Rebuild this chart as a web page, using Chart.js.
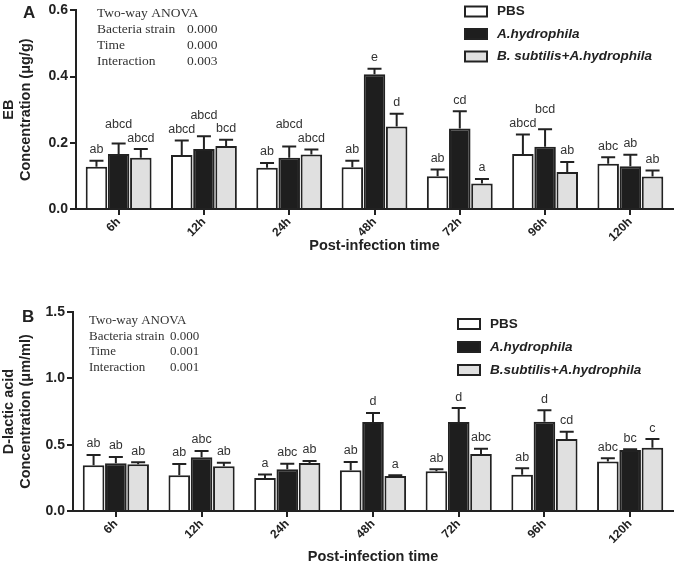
<!DOCTYPE html>
<html>
<head>
<meta charset="utf-8">
<script src="https://cdn.jsdelivr.net/npm/chart.js@4.4.0/dist/chart.umd.min.js"></script>
<style>
  body { margin: 0; background: #fff; }
  .panel { position: relative; width: 675px; }
</style>
</head>
<body>
<div class="panel" style="height:280px"><canvas id="chartA"></canvas></div>
<div class="panel" style="height:289px"><canvas id="chartB"></canvas></div>
<script>
const timePoints = ['6h', '12h', '24h', '48h', '72h', '96h', '120h'];

// panel A - EB concentration (μg/g)
const ebPbs = [0.128, 0.163, 0.125, 0.126, 0.099, 0.166, 0.137];
const ebPbsErr = [0.018, 0.044, 0.014, 0.02, 0.02, 0.059, 0.019];
const ebPbsLetters = ['ab', 'abcd', 'ab', 'ab', 'ab', 'abcd', 'abc'];
const ebAh = [0.166, 0.181, 0.155, 0.407, 0.243, 0.188, 0.129];
const ebAhErr = [0.032, 0.039, 0.034, 0.017, 0.052, 0.053, 0.035];
const ebAhLetters = ['abcd', 'abcd', 'abcd', 'e', 'cd', 'bcd', 'ab'];
const ebBs = [0.155, 0.19, 0.165, 0.249, 0.077, 0.112, 0.098];
const ebBsErr = [0.026, 0.019, 0.015, 0.039, 0.014, 0.03, 0.018];
const ebBsLetters = ['abcd', 'bcd', 'abcd', 'd', 'a', 'ab', 'ab'];
const anovaA = [['Two-way ANOVA', ''], ['Bacteria strain', '0.000'], ['Time', '0.000'], ['Interaction', '0.003']];

// panel B - D-lactic acid concentration (μm/ml)
const dlPbs = [0.344, 0.269, 0.249, 0.307, 0.299, 0.274, 0.374];
const dlPbsErr = [0.078, 0.085, 0.027, 0.062, 0.015, 0.048, 0.023];
const dlPbsLetters = ['ab', 'ab', 'a', 'ab', 'ab', 'ab', 'abc'];
const dlAh = [0.359, 0.405, 0.314, 0.671, 0.671, 0.673, 0.46];
const dlAhErr = [0.048, 0.047, 0.043, 0.068, 0.105, 0.086, 0.005];
const dlAhLetters = ['ab', 'abc', 'abc', 'd', 'd', 'd', 'bc'];
const dlBs = [0.352, 0.337, 0.362, 0.264, 0.43, 0.543, 0.477];
const dlBsErr = [0.015, 0.027, 0.015, 0.005, 0.04, 0.055, 0.065];
const dlBsLetters = ['ab', 'ab', 'ab', 'a', 'abc', 'cd', 'c'];
const anovaB = [['Two-way ANOVA', ''], ['Bacteria strain', '0.000'], ['Time', '0.001'], ['Interaction', '0.001']];

const SANS = '"Liberation Sans", Arial, sans-serif';
const SERIF = '"Liberation Serif", "Times New Roman", serif';
const INK = '#222';

// error bars (upper only) plus the significance letters
const barExtras = {
  id: 'barExtras',
  afterDatasetsDraw(chart) {
    const ctx = chart.ctx;
    const y = chart.scales.y;
    ctx.save();
    ctx.strokeStyle = INK;
    ctx.lineWidth = 2;
    chart.data.datasets.forEach((ds, di) => {
      chart.getDatasetMeta(di).data.forEach((bar, i) => {
        const top = y.getPixelForValue(ds.data[i]);
        const cap = y.getPixelForValue(ds.data[i] + ds.errors[i]);
        ctx.beginPath();
        ctx.moveTo(bar.x, top);
        ctx.lineTo(bar.x, cap);
        ctx.moveTo(bar.x - 7, cap);
        ctx.lineTo(bar.x + 7, cap);
        ctx.stroke();
      });
    });

    ctx.font = '12.5px ' + SANS;
    ctx.fillStyle = '#333';
    ctx.textAlign = 'center';
    ctx.textBaseline = 'middle';
    chart.data.labels.forEach((lab, i) => {
      const items = chart.data.datasets.map((ds, di) => {
        const bar = chart.getDatasetMeta(di).data[i];
        return {
          text: ds.letters[i],
          x: bar.x,
          y: y.getPixelForValue(ds.data[i] + ds.errors[i]) - 11,
          w: ctx.measureText(ds.letters[i]).width,
        };
      });
      // lowest first, so the higher one gets pushed up when they collide
      items.sort((a, b) => b.y - a.y);
      const placed = [];
      items.forEach((it) => {
        for (const p of placed) {
          const hitX = Math.abs(it.x - p.x) < (it.w + p.w) / 2;
          const hitY = Math.abs(it.y - p.y) < 11;
          if (hitX && hitY) it.y = p.y - 14;
        }
        placed.push(it);
        ctx.fillText(it.text, it.x, it.y);
      });
    });
    ctx.restore();
  },
};

// panel letter, ANOVA box and legend
const panelDecor = {
  id: 'panelDecor',
  afterDraw(chart, args, o) {
    const ctx = chart.ctx;
    ctx.save();
    ctx.textBaseline = 'middle';
    ctx.textAlign = 'left';

    ctx.fillStyle = INK;
    ctx.font = 'bold 17px ' + SANS;
    ctx.fillText(o.letter, o.letterX, o.letterY);

    ctx.fillStyle = '#333';
    ctx.font = o.anovaSize + 'px ' + SERIF;
    o.anova.forEach((row, i) => {
      ctx.fillText(row[0], o.anovaX, o.anovaY + i * o.anovaGap);
      ctx.fillText(row[1], o.anovaX2, o.anovaY + i * o.anovaGap);
    });

    chart.data.datasets.forEach((ds, i) => {
      const ly = o.legendY + i * o.legendGap;
      ctx.fillStyle = ds.backgroundColor;
      ctx.fillRect(o.legendX, ly - 5, 22, 10);
      ctx.strokeStyle = INK;
      ctx.lineWidth = 2;
      ctx.strokeRect(o.legendX, ly - 5, 22, 10);
      ctx.fillStyle = INK;
      ctx.font = (i ? 'italic ' : '') + 'bold 13.5px ' + SANS;
      ctx.fillText(ds.label, o.legendX + 32, ly);
    });
    ctx.restore();
  },
};

function series(label, color, data, errors, letters) {
  return {
    label: label,
    data: data,
    errors: errors,
    letters: letters,
    backgroundColor: color,
    borderColor: INK,
    borderWidth: 2,
    borderSkipped: 'bottom',
    categoryPercentage: 0.78,
    barPercentage: 0.97,
  };
}

function makeChart(id, datasets, cfg) {
  return new Chart(document.getElementById(id), {
    type: 'bar',
    data: { labels: timePoints, datasets: datasets },
    plugins: [barExtras, panelDecor],
    options: {
      responsive: true,
      maintainAspectRatio: false,
      devicePixelRatio: 1,
      animation: false,
      layout: { padding: { left: 0, top: cfg.padTop, right: 2, bottom: 0 } },
      plugins: {
        legend: { display: false },
        tooltip: { enabled: false },
        panelDecor: cfg.decor,
      },
      scales: {
        x: {
          ticks: {
            color: INK,
            font: { family: SANS, weight: 'bold', size: 12 },
            minRotation: 45,
            maxRotation: 45,
            padding: 0,
          },
          grid: { display: true, offset: false, drawOnChartArea: false, tickLength: 6, color: INK, lineWidth: 2 },
          border: { display: true, color: INK, width: 2 },
          title: {
            display: true,
            text: 'Post-infection time',
            color: INK,
            font: { family: SANS, weight: 'bold', size: 14.5, lineHeight: 1.2 },
            padding: { top: 0, bottom: cfg.xTitlePad },
          },
          afterFit: (s) => { s.height = cfg.xHeight; },
        },
        y: {
          min: 0,
          max: cfg.yMax,
          ticks: {
            stepSize: cfg.yStep,
            color: INK,
            font: { family: SANS, weight: 'bold', size: 14 },
            padding: 2,
            callback: (v) => v.toFixed(1),
          },
          grid: { display: true, drawOnChartArea: false, tickLength: 6, color: INK, lineWidth: 2 },
          border: { display: true, color: INK, width: 2 },
          title: {
            display: true,
            text: cfg.yTitle,
            color: INK,
            font: { family: SANS, weight: 'bold', size: 14.5, lineHeight: 1.17 },
            padding: { top: 1, bottom: 0 },
          },
          afterFit: (s) => { s.width = cfg.yWidth; },
        },
      },
    },
  });
}

makeChart('chartA', [
  series('PBS', '#ffffff', ebPbs, ebPbsErr, ebPbsLetters),
  series('A.hydrophila', '#1e1e1e', ebAh, ebAhErr, ebAhLetters),
  series('B. subtilis+A.hydrophila', '#e0e0e0', ebBs, ebBsErr, ebBsLetters),
], {
  padTop: 7, yMax: 0.6, yStep: 0.2, yWidth: 76, xHeight: 71, xTitlePad: 25,
  yTitle: ['EB', 'Concentration (μg/g)'],
  decor: {
    letter: 'A', letterX: 23, letterY: 13,
    anova: anovaA, anovaSize: 13.5, anovaX: 97, anovaX2: 187, anovaY: 13, anovaGap: 16,
    legendX: 465, legendY: 11.5, legendGap: 22.5,
  },
});

makeChart('chartB', [
  series('PBS', '#ffffff', dlPbs, dlPbsErr, dlPbsLetters),
  series('A.hydrophila', '#1e1e1e', dlAh, dlAhErr, dlAhLetters),
  series('B.subtilis+A.hydrophila', '#e0e0e0', dlBs, dlBsErr, dlBsLetters),
], {
  padTop: 32, yMax: 1.5, yStep: 0.5, yWidth: 73, xHeight: 58, xTitlePad: 3,
  yTitle: ['D-lactic acid', 'Concentration (μm/ml)'],
  decor: {
    letter: 'B', letterX: 22, letterY: 37,
    anova: anovaB, anovaSize: 13, anovaX: 89, anovaX2: 170, anovaY: 41, anovaGap: 15.5,
    legendX: 458, legendY: 44, legendGap: 23,
  },
});
</script>
</body>
</html>
